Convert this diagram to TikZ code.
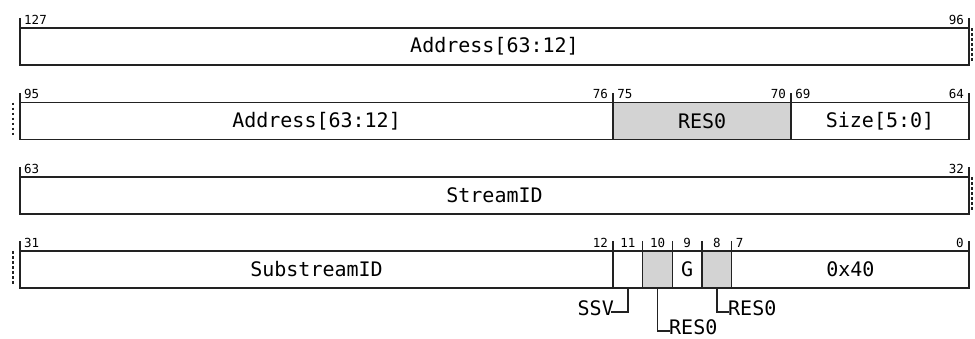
\documentclass[tikz,border=0pt]{standalone}
\usepackage{fontspec}
\setmonofont{DejaVu Sans Mono}
\usetikzlibrary{positioning,calc}
\definecolor{regK}{RGB}{34,34,34}
\definecolor{regG}{RGB}{211,211,211}

\begin{document}
\begin{tikzpicture}[x=1pt,y=-1pt,
  fld/.style={draw=regK,line width=1.3pt,minimum height=37pt,inner sep=0pt,outer sep=0pt,
    anchor=north west,font=\fontsize{20}{23}\selectfont\ttfamily},
  res/.style={fld,fill=regG},
  bitno/.style={font=\fontsize{12.5}{14}\selectfont\ttfamily,inner sep=0pt},
  tick/.style={regK,line width=1.3pt},
  cont/.style={regK,line width=2.2pt,dash pattern=on 2.5pt off 2.5pt},
  call/.style={regK,line width=1.3pt},
  lbl/.style={font=\fontsize{20}{23}\selectfont\ttfamily,inner sep=0pt}]
\useasboundingbox (0,0) rectangle (975,338);

% row 1: bits 127..96
\node[fld,minimum width=949pt] (a1) at (20,28) {Address[63:12]};
% row 2: bits 95..64
\node[fld,minimum width=593.1pt] (a2) at (20,102.5) {Address[63:12]};
\node[res,minimum width=177.95pt,right=0pt of a2] (r2) {RES0};
\node[fld,minimum width=177.95pt,right=0pt of r2] (s2) {Size[5:0]};
% row 3: bits 63..32
\node[fld,minimum width=949pt] (sid) at (20,177) {StreamID};
% row 4: bits 31..0
\node[fld,minimum width=593.1pt] (sub) at (20,251) {SubstreamID};
\node[fld,minimum width=29.66pt,right=0pt of sub] (b11) {};
\node[res,minimum width=29.66pt,right=0pt of b11] (b10) {};
\node[fld,minimum width=29.66pt,right=0pt of b10] (b9) {G};
\node[res,minimum width=29.66pt,right=0pt of b9] (b8) {};
\node[fld,minimum width=237.2pt,right=0pt of b8] (op) {0x40};

% ticks
\foreach \n in {a1,a2,r2,s2,sid,sub,b11,b10,b9,b8,op}
  \draw[tick] (\n.north west) -- ++(0,-10);
\foreach \n in {a1,s2,sid,op}
  \draw[tick] (\n.north east) -- ++(0,-10);

% bit numbers
\node[bitno,anchor=base west] (n127) at ([xshift=4pt,yshift=4pt]a1.north west) {127};
\node[bitno,anchor=base east] (n96) at ([xshift=-5pt,yshift=4pt]a1.north east) {96};
\node[bitno,anchor=base west] (n95) at ([xshift=4pt,yshift=4pt]a2.north west) {95};
\node[bitno,anchor=base east] (n76) at ([xshift=-5pt,yshift=4pt]a2.north east) {76};
\node[bitno,anchor=base west] (n75) at ([xshift=4pt,yshift=4pt]r2.north west) {75};
\node[bitno,anchor=base east] (n70) at ([xshift=-5pt,yshift=4pt]r2.north east) {70};
\node[bitno,anchor=base west] (n69) at ([xshift=4pt,yshift=4pt]s2.north west) {69};
\node[bitno,anchor=base east] (n64) at ([xshift=-5pt,yshift=4pt]s2.north east) {64};
\node[bitno,anchor=base west] (n63) at ([xshift=4pt,yshift=4pt]sid.north west) {63};
\node[bitno,anchor=base east] (n32) at ([xshift=-5pt,yshift=4pt]sid.north east) {32};
\node[bitno,anchor=base west] (n31) at ([xshift=4pt,yshift=4pt]sub.north west) {31};
\node[bitno,anchor=base east] (n12) at ([xshift=-5pt,yshift=4pt]sub.north east) {12};
\node[bitno,anchor=base] (n11) at ([yshift=4pt]b11.north) {11};
\node[bitno,anchor=base] (n10) at ([yshift=4pt]b10.north) {10};
\node[bitno,anchor=base] (n9) at ([yshift=4pt]b9.north) {9};
\node[bitno,anchor=base] (n8) at ([yshift=4pt]b8.north) {8};
\node[bitno,anchor=base west] (n7) at ([xshift=4pt,yshift=4pt]op.north west) {7};
\node[bitno,anchor=base east] (n0) at ([xshift=-5pt,yshift=4pt]op.north east) {0};

% continuation marks
\draw[cont] ([xshift=3pt]a1.north east) -- ++(0,33);
\draw[cont] ([xshift=-7pt]a2.north west) -- ++(0,33);
\draw[cont] ([xshift=3pt]sid.north east) -- ++(0,33);
\draw[cont] ([xshift=-7pt]sub.north west) -- ++(0,33);

% callouts
\node[lbl,anchor=base east] (ssv) at (614,315) {SSV};
\node[lbl,anchor=base west] (res10) at (669,334) {RES0};
\node[lbl,anchor=base west] (res8) at (728,315) {RES0};
\draw[call] (b11.south) |- ([xshift=-3pt,yshift=3pt]ssv.base east);
\draw[call] (b10.south) |- ([xshift=1pt,yshift=3pt]res10.base west);
\draw[call] (b8.south) |- ([xshift=1pt,yshift=3pt]res8.base west);
\end{tikzpicture}
\end{document}
